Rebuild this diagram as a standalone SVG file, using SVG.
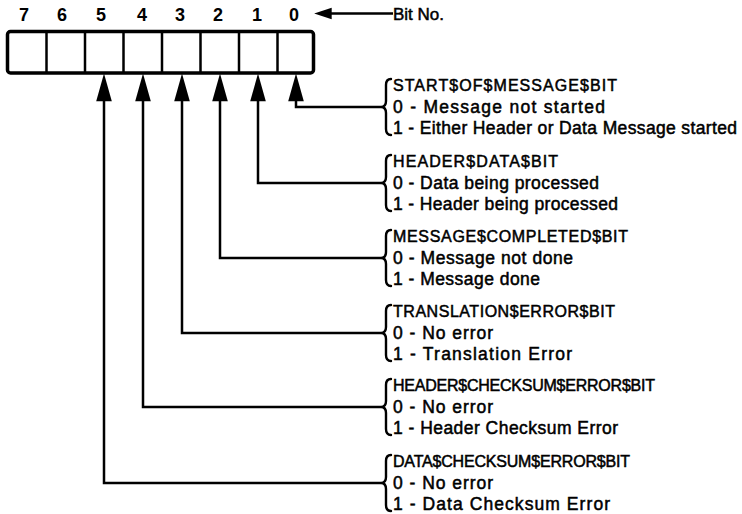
<svg xmlns="http://www.w3.org/2000/svg" width="742" height="514" viewBox="0 0 742 514">
<defs>
<style>
.digit{font-family:"Liberation Sans",Arial,sans-serif;font-size:18px;font-weight:bold;fill:#000;text-anchor:middle}
.lbl{font-family:"Liberation Sans",Arial,sans-serif;font-size:17.5px;fill:#000;stroke:#000;stroke-width:0.5}
.ttl{font-size:16px}
.conn{fill:none;stroke:#000;stroke-width:2.5}
.brace{fill:none;stroke:#000;stroke-width:2.4;stroke-linecap:round}
.cell{stroke:#000;stroke-width:2.5}
</style>
<marker id="up" markerUnits="userSpaceOnUse" markerWidth="30" markerHeight="20" viewBox="-17 -8 25 16" refX="0" refY="0" orient="auto-start-reverse">
<path d="M7,0 L-16,-6.5 L-16,6.5 Z" fill="#000"/>
</marker>
<marker id="left" markerUnits="userSpaceOnUse" markerWidth="20" markerHeight="14" viewBox="-11 -6 17 12" refX="0" refY="0" orient="auto">
<path d="M5,0 L-10,-5 L-10,5 Z" fill="#000"/>
</marker>
</defs>
<rect width="742" height="514" fill="#fff"/>

<g id="register">
<rect x="7.5" y="31.5" width="306" height="41.5" rx="3" fill="#fff" stroke="#000" stroke-width="3.5"/>
<line class="cell" x1="46.5" y1="31" x2="46.5" y2="73"/>
<line class="cell" x1="85" y1="31" x2="85" y2="73"/>
<line class="cell" x1="123.5" y1="31" x2="123.5" y2="73"/>
<line class="cell" x1="162" y1="31" x2="162" y2="73"/>
<line class="cell" x1="200.5" y1="31" x2="200.5" y2="73"/>
<line class="cell" x1="239" y1="31" x2="239" y2="73"/>
<line class="cell" x1="277.5" y1="31" x2="277.5" y2="73"/>
<text class="digit" x="24" y="21">7</text>
<text class="digit" x="62" y="21">6</text>
<text class="digit" x="101" y="21">5</text>
<text class="digit" x="142" y="21">4</text>
<text class="digit" x="180" y="21">3</text>
<text class="digit" x="218" y="21">2</text>
<text class="digit" x="257" y="21">1</text>
<text class="digit" x="294" y="21">0</text>
</g>

<g id="bitno">
<text class="lbl" x="393" y="20" textLength="51" lengthAdjust="spacing" style="font-size:17px">Bit No.</text>
</g>

<g id="connectors">
<path class="conn" d="M393,13.5 H320" marker-end="url(#left)"/>
<path class="conn" d="M296,82 V107 H381" marker-start="url(#up)"/>
<path class="conn" d="M258,82 V183 H381" marker-start="url(#up)"/>
<path class="conn" d="M220,82 V258 H381" marker-start="url(#up)"/>
<path class="conn" d="M182,82 V333 H381" marker-start="url(#up)"/>
<path class="conn" d="M143,82 V407 H381" marker-start="url(#up)"/>
<path class="conn" d="M104,82 V483 H381" marker-start="url(#up)"/>
</g>

<g id="bit0">
<path class="brace" d="M391,79 Q386,79 386,85 V101 Q386,107 381,107 Q386,107 386,113 V129 Q386,135 391,135"/>
<text class="lbl ttl" x="393" y="91" textLength="224" lengthAdjust="spacing">START$OF$MESSAGE$BIT</text>
<text class="lbl" x="393" y="113" textLength="212" lengthAdjust="spacing">0 - Message not started</text>
<text class="lbl" x="393" y="134" textLength="344" lengthAdjust="spacing">1 - Either Header or Data Message started</text>
</g>

<g id="bit1">
<path class="brace" d="M391,155 Q386,155 386,161 V177 Q386,183 381,183 Q386,183 386,189 V205 Q386,211 391,211"/>
<text class="lbl ttl" x="393" y="167" textLength="165" lengthAdjust="spacing">HEADER$DATA$BIT</text>
<text class="lbl" x="393" y="189" textLength="206" lengthAdjust="spacing">0 - Data being processed</text>
<text class="lbl" x="393" y="210" textLength="225" lengthAdjust="spacing">1 - Header being processed</text>
</g>

<g id="bit2">
<path class="brace" d="M391,230 Q386,230 386,236 V252 Q386,258 381,258 Q386,258 386,264 V280 Q386,286 391,286"/>
<text class="lbl ttl" x="393" y="242" textLength="235" lengthAdjust="spacing">MESSAGE$COMPLETED$BIT</text>
<text class="lbl" x="393" y="264" textLength="180" lengthAdjust="spacing">0 - Message not done</text>
<text class="lbl" x="393" y="285" textLength="147" lengthAdjust="spacing">1 - Message done</text>
</g>

<g id="bit3">
<path class="brace" d="M391,305 Q386,305 386,311 V327 Q386,333 381,333 Q386,333 386,339 V355 Q386,361 391,361"/>
<text class="lbl ttl" x="393" y="317" textLength="222" lengthAdjust="spacing">TRANSLATION$ERROR$BIT</text>
<text class="lbl" x="393" y="339" textLength="100" lengthAdjust="spacing">0 - No error</text>
<text class="lbl" x="393" y="360" textLength="179" lengthAdjust="spacing">1 - Translation Error</text>
</g>

<g id="bit4">
<path class="brace" d="M391,379 Q386,379 386,385 V401 Q386,407 381,407 Q386,407 386,413 V429 Q386,435 391,435"/>
<text class="lbl ttl" x="393" y="391" textLength="262" lengthAdjust="spacing">HEADER$CHECKSUM$ERROR$BIT</text>
<text class="lbl" x="393" y="413" textLength="100" lengthAdjust="spacing">0 - No error</text>
<text class="lbl" x="393" y="434" textLength="225" lengthAdjust="spacing">1 - Header Checksum Error</text>
</g>

<g id="bit5">
<path class="brace" d="M391,455 Q386,455 386,461 V477 Q386,483 381,483 Q386,483 386,489 V505 Q386,511 391,511"/>
<text class="lbl ttl" x="393" y="467" textLength="237" lengthAdjust="spacing">DATA$CHECKSUM$ERROR$BIT</text>
<text class="lbl" x="393" y="489" textLength="100" lengthAdjust="spacing">0 - No error</text>
<text class="lbl" x="393" y="510" textLength="217" lengthAdjust="spacing">1 - Data Checksum Error</text>
</g>
</svg>
